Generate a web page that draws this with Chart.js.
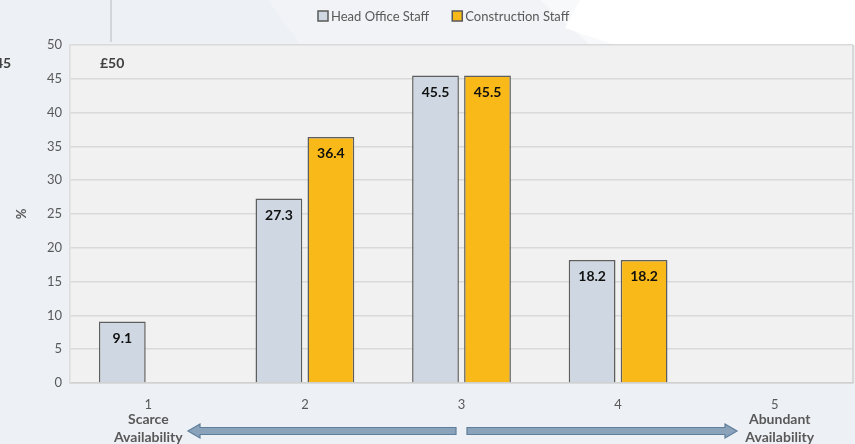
<!DOCTYPE html>
<html>
<head>
<meta charset="utf-8">
<script src="https://cdn.jsdelivr.net/npm/chart.js@4/dist/chart.umd.min.js"></script>
<style>
  html, body { margin: 0; padding: 0; background: #edf0f4; }
  #wrap { width: 855px; height: 444px; }
</style>
</head>
<body>
<div id="wrap"><canvas id="barChart" width="855" height="444"></canvas></div>
<script>
// values
const categories = ['1', '2', '3', '4', '5'];
const headOffice = [9.1, 27.3, 45.5, 18.2, 0];
const construction = [0, 36.4, 45.5, 18.2, 0];
const seriesNames = ['Head Office Staff', 'Construction Staff'];
const yTicks = [0, 5, 10, 15, 20, 25, 30, 35, 40, 45, 50];

const FONT = 'Lato, "Open Sans", sans-serif';
const GREY_TEXT = '#595959';

// page background with the pale slide shapes behind the chart
const backdrop = {
    id: 'backdrop',
    beforeDraw(chart) {
        const c = chart.ctx;
        c.save();
        c.fillStyle = '#edf0f4';
        c.fillRect(0, 0, chart.width, chart.height);
        c.fillStyle = '#f1f3f6';
        c.beginPath();
        c.moveTo(268, 0); c.lineTo(580, 0); c.lineTo(600, 45); c.lineTo(300, 45);
        c.closePath(); c.fill();
        c.fillStyle = '#f8f9fb';
        c.beginPath();
        c.moveTo(540, 0); c.lineTo(600, 0); c.lineTo(620, 45); c.lineTo(590, 45);
        c.closePath(); c.fill();
        c.fillStyle = '#ffffff';
        c.beginPath();
        c.moveTo(580, 0); c.lineTo(855, 0); c.lineTo(855, 45); c.lineTo(615, 45); c.lineTo(565, 28);
        c.closePath(); c.fill();
        c.strokeStyle = '#c8ccd2';
        c.lineWidth = 1.5;
        c.beginPath(); c.moveTo(111, 0); c.lineTo(111, 42); c.stroke();
        // plot background
        const a = chart.chartArea;
        c.fillStyle = '#f1f1f1';
        c.fillRect(a.left, a.top, a.right - a.left, a.bottom - a.top);
        c.restore();
    }
};

// values inside the bars, legend, stray slide labels and the arrows
const extras = {
    id: 'extras',
    afterDatasetsDraw(chart) {
        const c = chart.ctx;
        c.save();
        c.font = 'bold 14px ' + FONT;
        c.fillStyle = '#111111';
        c.textAlign = 'center';
        c.textBaseline = 'middle';
        chart.data.datasets.forEach((ds, i) => {
            chart.getDatasetMeta(i).data.forEach((bar, j) => {
                const v = ds.data[j];
                if (!v) return;
                c.fillText(v.toFixed(1), bar.x, bar.y + 17);
            });
        });
        c.restore();
    },
    afterDraw(chart) {
        const c = chart.ctx;
        const a = chart.chartArea;
        const x = chart.scales.x;
        c.save();

        // right border of plot
        c.strokeStyle = '#d0d0d0';
        c.lineWidth = 1.5;
        c.beginPath(); c.moveTo(a.right, a.top); c.lineTo(a.right, a.bottom); c.stroke();

        // stray labels from the slide
        c.font = 'bold 14px ' + FONT;
        c.fillStyle = '#404040';
        c.textBaseline = 'middle';
        c.textAlign = 'left';
        c.fillText('£50', 100, 63);
        c.fillText('45', -5, 63);

        // legend
        const ds = chart.data.datasets;
        c.font = '13px ' + FONT;
        let lx = 318;
        ds.forEach((d, i) => {
            c.fillStyle = d.backgroundColor;
            c.fillRect(lx, 11, 10, 10);
            c.strokeStyle = '#595959';
            c.lineWidth = 1.5;
            c.strokeRect(lx, 11, 10, 10);
            c.fillStyle = GREY_TEXT;
            c.fillText(seriesNames[i], lx + 13, 16.5);
            lx += 13 + c.measureText(seriesNames[i]).width + 23;
        });

        // axis end labels
        c.font = 'bold 14px ' + FONT;
        c.fillStyle = GREY_TEXT;
        c.textAlign = 'center';
        const p1 = x.getPixelForValue(0);
        const p5 = x.getPixelForValue(4);
        c.fillText('Scarce', p1, 419);
        c.fillText('Availability', p1, 437);
        c.fillText('Abundant', p5 + 5, 419);
        c.fillText('Availability', p5 + 5, 437);

        // arrows
        const ay = 431;
        function arrow(from, to) {
            const dir = Math.sign(to - from);
            const head = 12;
            c.beginPath();
            c.moveTo(from, ay - 3.5);
            c.lineTo(to - dir * head, ay - 3.5);
            c.lineTo(to - dir * head, ay - 7);
            c.lineTo(to, ay);
            c.lineTo(to - dir * head, ay + 7);
            c.lineTo(to - dir * head, ay + 3.5);
            c.lineTo(from, ay + 3.5);
            c.closePath();
            c.fillStyle = '#8aa3bb';
            c.fill();
            c.strokeStyle = '#5f7e9c';
            c.lineWidth = 1.2;
            c.stroke();
        }
        arrow(456, 188);
        arrow(467, 737);
        c.restore();
    }
};

new Chart(document.getElementById('barChart').getContext('2d'), {
    type: 'bar',
    data: {
        labels: categories,
        datasets: [
            {
                label: seriesNames[0],
                data: headOffice,
                backgroundColor: '#cfd8e2',
                borderColor: '#5e5e5e',
                borderWidth: 1.5
            },
            {
                label: seriesNames[1],
                data: construction,
                backgroundColor: '#f9b918',
                borderColor: '#5e5e5e',
                borderWidth: 1.5
            }
        ]
    },
    options: {
        responsive: false,
        animation: false,
        devicePixelRatio: 1,
        layout: { padding: { top: 45, right: 2, left: 0, bottom: 0 } },
        datasets: {
            bar: { barPercentage: 0.9, categoryPercentage: 0.664 }
        },
        plugins: {
            legend: { display: false },
            tooltip: { enabled: false }
        },
        scales: {
            x: {
                grid: { display: false },
                border: { display: true, color: '#d0d0d0', width: 1.5 },
                ticks: { color: GREY_TEXT, font: { family: FONT, size: 13 }, padding: 6 },
                afterFit(scale) { scale.height = 61; }
            },
            y: {
                min: 0,
                max: 50,
                afterBuildTicks(scale) { scale.ticks = yTicks.map(v => ({ value: v })); },
                grid: { color: '#d9d9d9', lineWidth: 1.5, drawTicks: false },
                border: { display: true, color: '#dcdcdc', width: 1.5 },
                ticks: { color: GREY_TEXT, font: { family: FONT, size: 13 }, padding: 8 },
                title: {
                    display: true,
                    text: '%',
                    color: GREY_TEXT,
                    padding: { top: 14, bottom: 0 },
                    font: { family: FONT, size: 13, weight: 'bold' }
                },
                afterFit(scale) { scale.width = 70; }
            }
        }
    },
    plugins: [backdrop, extras]
});
</script>
</body>
</html>
